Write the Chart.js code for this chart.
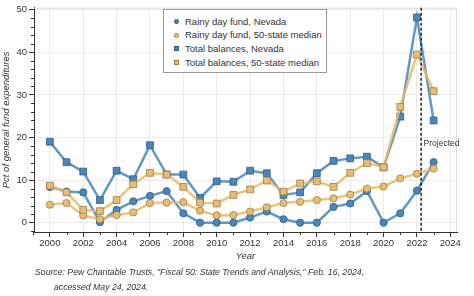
<!DOCTYPE html>
<html>
<head>
<meta charset="utf-8">
<script src="https://cdn.jsdelivr.net/npm/chart.js@4"></script>
<style>
  body { margin: 0; background: #fff; font-family: "Liberation Sans", Arial, sans-serif; }
  #wrap { position: relative; width: 474px; height: 296px; }
  #legend { position: absolute; left: 163px; top: 9px; width: 162px; height: 62px; border: 1px solid #999; background: #fff; }
  .item { position: absolute; left: 0; font-size: 9.5px; color: #333; line-height: 12px; white-space: nowrap; }
  .item span.mk { position: absolute; left: 10px; top: 3.5px; width: 5px; height: 5px; box-sizing: border-box; }
  .item span.tx { position: absolute; left: 21px; }
  .src { position: absolute; font-size: 8.7px; font-style: italic; color: #333; white-space: nowrap; }
</style>
</head>
<body>
<div id="wrap">
  <canvas id="dispChart" width="474" height="296"></canvas>
  <div id="legend"></div>
  <div class="src" style="left:35px; top:267px;">Source: Pew Charitable Trusts, "Fiscal 50: State Trends and Analysis," Feb. 16, 2024,</div>
  <div class="src" style="left:54px; top:282px;">accessed May 24, 2024.</div>
</div>
<script>
  // data
  const years = [2000, 2001, 2002, 2003, 2004, 2005, 2006, 2007, 2008, 2009, 2010, 2011,
                 2012, 2013, 2014, 2015, 2016, 2017, 2018, 2019, 2020, 2021, 2022, 2023];
  const rainyNevada = [8.4, 7.3, 7.1, 0.1, 3.0, 5.0, 6.3, 7.4, 2.2, 0, 0, 0,
                       1.2, 2.6, 0.8, 0, 0, 3.7, 4.5, 7.4, 0, 2.2, 7.5, 14.2];
  const rainyMedian = [4.2, 4.6, 1.7, 0.8, 1.8, 2.4, 4.6, 4.7, 4.8, 2.8, 1.7, 1.8,
                       2.6, 3.6, 4.6, 4.9, 5.3, 5.7, 6.6, 8.0, 8.5, 10.4, 11.5, 12.7];
  const totalNevada = [19.0, 14.2, 12.0, 5.3, 12.2, 10.2, 18.2, 11.3, 11.3, 5.8, 9.7, 9.6,
                       12.2, 11.6, 6.5, 7.1, 11.6, 14.5, 15.1, 15.5, 13.0, 24.9, 48.2, 24.0];
  const totalMedian = [8.7, 7.1, 3.0, 2.7, 5.3, 9.0, 11.7, 11.3, 8.4, 4.7, 4.5, 6.5,
                       7.8, 9.9, 7.3, 9.2, 9.7, 8.4, 11.7, 14.0, 13.0, 27.2, 39.5, 30.9];
  const seriesNames = ['Rainy day fund, Nevada', 'Rainy day fund, 50-state median',
                       'Total balances, Nevada', 'Total balances, 50-state median'];
  const projectedFrom = 2022.25;
  const projectedLabel = 'Projected';

  const blueLine = 'rgba(70,135,185,0.85)', blueFill = '#4b87b9', blueEdge = '#2b5c88';
  const goldLine = 'rgba(234,186,105,0.85)', goldFill = '#e7bd73', goldEdge = '#9d7e45';

  function pts(vals) {
    return vals.map((v, i) => ({ x: years[i], y: v }));
  }
  function mkSet(i, vals, line, fill, edge, shape) {
    return {
      label: seriesNames[i],
      data: pts(vals),
      borderColor: line,
      borderWidth: 2.5,
      pointStyle: shape,
      pointRadius: shape === 'rect' ? 4.8 : 3.6,
      pointBackgroundColor: fill,
      pointBorderColor: edge,
      pointBorderWidth: 0.8,
      tension: 0,
      order: 3 - i
    };
  }

  const fontBase = { family: '"Liberation Sans", Arial, sans-serif', size: 9.5 };

  // light frame, minor ticks and the projected line
  const extras = {
    id: 'extras',
    beforeDatasetsDraw(chart) {
      const { ctx, chartArea: a, scales: { x, y } } = chart;
      ctx.save();
      ctx.strokeStyle = '#dcdcdc';
      ctx.lineWidth = 1;
      ctx.beginPath();
      ctx.moveTo(a.left, a.top + 0.5); ctx.lineTo(a.right - 0.5, a.top + 0.5); ctx.lineTo(a.right - 0.5, a.bottom);
      ctx.stroke();
      ctx.strokeStyle = '#333';
      ctx.beginPath();
      for (let v = -2; v <= 50; v += 2) {
        if (v % 10 === 0) continue;
        const py = Math.round(y.getPixelForValue(v)) + 0.5;
        ctx.moveTo(a.left, py); ctx.lineTo(a.left - 3, py);
      }
      for (let v = 1999; v <= 2024; v++) {
        if (v % 2 === 0) continue;
        const px = Math.round(x.getPixelForValue(v)) + 0.5;
        ctx.moveTo(px, a.bottom); ctx.lineTo(px, a.bottom + 3);
      }
      ctx.stroke();
      ctx.restore();
    },
    afterDatasetsDraw(chart) {
      const { ctx, chartArea: a, scales: { x } } = chart;
      const px = x.getPixelForValue(projectedFrom);
      ctx.save();
      ctx.strokeStyle = '#222';
      ctx.lineWidth = 1.5;
      ctx.setLineDash([3, 2]);
      ctx.beginPath();
      ctx.moveTo(px, a.top); ctx.lineTo(px, a.bottom);
      ctx.stroke();
      ctx.setLineDash([]);
      ctx.fillStyle = '#333';
      ctx.font = '8.5px "Liberation Sans", Arial, sans-serif';
      ctx.textBaseline = 'middle';
      ctx.fillText(projectedLabel, px + 2.5, 144);
      ctx.restore();
    }
  };

  const config = {
    type: 'line',
    data: {
      datasets: [
        mkSet(0, rainyNevada, blueLine, blueFill, blueEdge, 'circle'),
        mkSet(1, rainyMedian, goldLine, goldFill, goldEdge, 'circle'),
        mkSet(2, totalNevada, blueLine, blueFill, blueEdge, 'rect'),
        mkSet(3, totalMedian, goldLine, goldFill, goldEdge, 'rect')
      ]
    },
    options: {
      responsive: false,
      animation: false,
      layout: { padding: { top: 3, right: 17, bottom: 34, left: 0 } },
      plugins: { legend: { display: false }, tooltip: { enabled: false } },
      scales: {
        x: {
          type: 'linear',
          min: 1999.05,
          max: 2024.4,
          afterFit(s) { s.height = 30; },
          grid: { color: '#ebebeb', tickColor: '#333', tickLength: 5 },
          border: { color: '#333', width: 1 },
          ticks: {
            stepSize: 2, includeBounds: false, padding: 1, color: '#333', font: fontBase,
            maxRotation: 0, callback: v => String(v)
          },
          title: { display: true, text: 'Year', color: '#333', padding: 0,
                   font: Object.assign({}, fontBase, { style: 'italic' }) }
        },
        y: {
          min: -2.2,
          max: 50.5,
          afterFit(s) { s.width = 34; },
          grid: { color: '#ebebeb', tickColor: '#333', tickLength: 5 },
          border: { color: '#333', width: 1 },
          ticks: { stepSize: 10, includeBounds: false, padding: 2, color: '#333', font: fontBase },
          title: { display: true, text: 'Pct of general fund expenditures', color: '#333',
                   padding: { top: 1, bottom: 0 },
                   font: Object.assign({}, fontBase, { style: 'italic' }) }
        }
      }
    },
    plugins: [extras]
  };

  const myChart = new Chart(document.getElementById('dispChart'), config);

  // legend box
  const legendEl = document.getElementById('legend');
  const legendMarks = [
    [blueFill, blueEdge, '50%'], [goldFill, goldEdge, '50%'],
    [blueFill, blueEdge, '0'], [goldFill, goldEdge, '0']
  ];
  seriesNames.forEach((name, i) => {
    const row = document.createElement('div');
    row.className = 'item';
    row.style.top = (5.5 + i * 13.7) + 'px';
    const mk = document.createElement('span');
    mk.className = 'mk';
    mk.style.background = legendMarks[i][0];
    mk.style.border = '0.8px solid ' + legendMarks[i][1];
    mk.style.borderRadius = legendMarks[i][2];
    const tx = document.createElement('span');
    tx.className = 'tx';
    tx.textContent = name;
    row.appendChild(mk);
    row.appendChild(tx);
    legendEl.appendChild(row);
  });
</script>
</body>
</html>
